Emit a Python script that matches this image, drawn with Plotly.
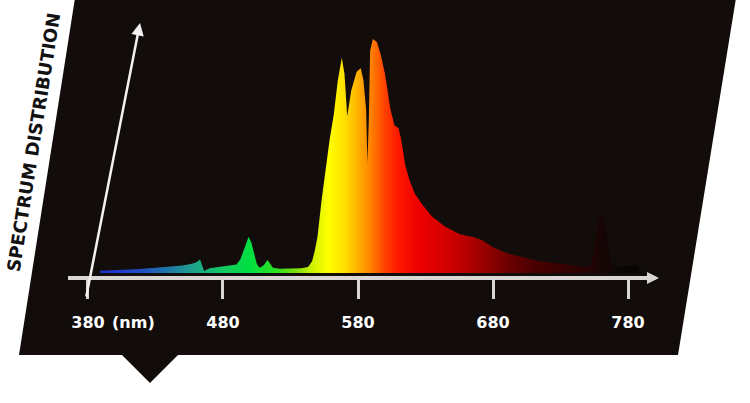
import plotly.graph_objects as go

# ---- data ----
wavelength = [389, 400, 415, 430, 440, 450, 456, 460, 463, 466, 470, 475, 480, 485, 490, 493,
              496, 499, 501, 503, 505, 507, 510, 513, 515, 517, 522, 530, 538, 543, 546, 548,
              550, 553, 556, 559, 562, 565, 568, 570, 572, 575, 579, 582, 584, 586, 587, 588,
              589, 591, 594, 597, 600, 604, 607, 610, 612, 615, 618, 622, 628, 635, 645, 655,
              665, 672, 680, 690, 700, 715, 730, 745, 752, 755, 758, 761, 764, 767, 770, 780,
              787, 790]
intensity = [1.0, 1.2, 1.6, 2.2, 2.6, 3.2, 3.8, 4.5, 5.8, 0.8, 2.0, 2.4, 2.6, 3.0, 3.6, 6.0,
             11.0, 15.5, 13.0, 8.5, 4.0, 2.2, 3.2, 5.6, 4.0, 2.2, 1.8, 1.8, 2.0, 2.6, 5.0, 9.5,
             15.5, 31.0, 44.0, 57.0, 67.5, 82.0, 92.0, 85.0, 67.0, 78.0, 86.0, 87.5, 82.5, 70.0, 47.0, 65.0,
             95.0, 100.0, 98.7, 93.0, 85.0, 70.0, 63.0, 62.0, 57.0, 46.0, 40.0, 34.0, 29.0, 24.0, 19.7, 16.7,
             15.4, 14.0, 11.0, 8.5, 7.0, 5.0, 4.0, 3.0, 2.5, 10.0, 22.6, 25.0, 18.0, 5.0, 3.0, 3.0,
             3.4, 0.0]

tick_values = [380, 480, 580, 680, 780]
tick_labels = ["380", "480", "580", "680", "780"]
unit_label = "(nm)"
y_title = "SPECTRUM DISTRIBUTION"

# wavelength -> colour stops for the fill gradient
grad_nm = [380, 400, 420, 440, 455, 470, 485, 500, 520, 535, 545, 558, 570, 580, 590, 600,
           610, 625, 650, 670, 690, 710, 735, 750, 758, 775, 790]
grad_col = ["#1a2ad0", "#1e3ad0", "#2050c0", "#207aa8", "#1f9a90", "#18b878", "#10d058", "#00e040",
            "#30e020", "#80e010", "#c8f000", "#ffff00", "#ffe000", "#ffb000", "#ff8000", "#ff4000",
            "#ff1800", "#ee0000", "#cc0000", "#a00000", "#700000", "#4a0000", "#340202", "#280202",
            "#1a0404", "#0a0606", "#0a0606"]

W, H = 750, 403


def P(x, y):
    return x / W, 1 - y / H


g0, g1 = grad_nm[0], grad_nm[-1]
colorscale = [[(n - g0) / (g1 - g0), c] for n, c in zip(grad_nm, grad_col)]

fig = go.Figure()
fig.add_trace(go.Scatter(
    x=wavelength, y=intensity, mode="lines", fill="tozeroy",
    line=dict(width=0, color="rgba(0,0,0,0)"),
    fillgradient=dict(type="horizontal", colorscale=colorscale, start=g0, stop=g1),
    hoverinfo="skip", showlegend=False,
))

# background panel (parallelogram with pointer)
pts = [(75, -2), (736, -2), (678, 355), (178, 355), (150, 383), (122, 355), (19, 355)]
path = "M " + " L ".join(f"{P(x, y)[0]:.5f},{P(x, y)[1]:.5f}" for x, y in pts) + " Z"

bold = dict(family="DejaVu Sans", size=16, color="white", weight="bold")

fig.update_layout(
    width=W, height=H,
    margin=dict(l=0, r=0, t=0, b=0),
    paper_bgcolor="white", plot_bgcolor="rgba(0,0,0,0)",
    shapes=[dict(type="path", path=path, xref="paper", yref="paper",
                 fillcolor="#120d0b", line=dict(width=0), layer="below")],
    xaxis=dict(
        domain=[68 / W, 652 / W], range=[365.19, 797.78],
        anchor="free", position=1 - 278 / H,
        tickmode="array", tickvals=tick_values, ticktext=tick_labels,
        showline=True, linecolor="#d9d6d3", linewidth=4,
        ticks="outside", ticklen=19, tickwidth=3, tickcolor="#d9d6d3",
        ticklabelstandoff=10,
        tickfont=bold, showgrid=False, zeroline=False, fixedrange=True,
    ),
    yaxis=dict(domain=[0, 1], range=[-55.56, 116.67], visible=False, fixedrange=True),
    annotations=[
        dict(text=unit_label, xref="x", x=380, xanchor="left", xshift=22,
             yref="paper", y=P(0, 322)[1], yanchor="middle", showarrow=False, font=bold),
        dict(text="", xref="paper", yref="paper", x=P(140, 23)[0], y=P(140, 23)[1],
             axref="pixel", ayref="pixel", ax=-54, ay=275, showarrow=True,
             arrowhead=2, arrowsize=1, arrowwidth=2.5, arrowcolor="#f2f2f2"),
        dict(text="", xref="paper", yref="paper", x=P(659, 278)[0], y=P(659, 278)[1],
             axref="pixel", ayref="pixel", ax=-10, ay=0, showarrow=True,
             arrowhead=2, arrowsize=0.8, arrowwidth=3, arrowcolor="#d9d6d3"),
        dict(text=y_title, xref="paper", yref="paper", x=P(33, 142)[0], y=P(33, 142)[1],
             xanchor="center", yanchor="middle",
             textangle=-81, showarrow=False,
             font=dict(family="DejaVu Sans", size=18, color="#111111", weight="bold")),
    ],
)

fig.write_html("out.html", config={"displayModeBar": False},
               post_script="document.body.style.margin='0';")
